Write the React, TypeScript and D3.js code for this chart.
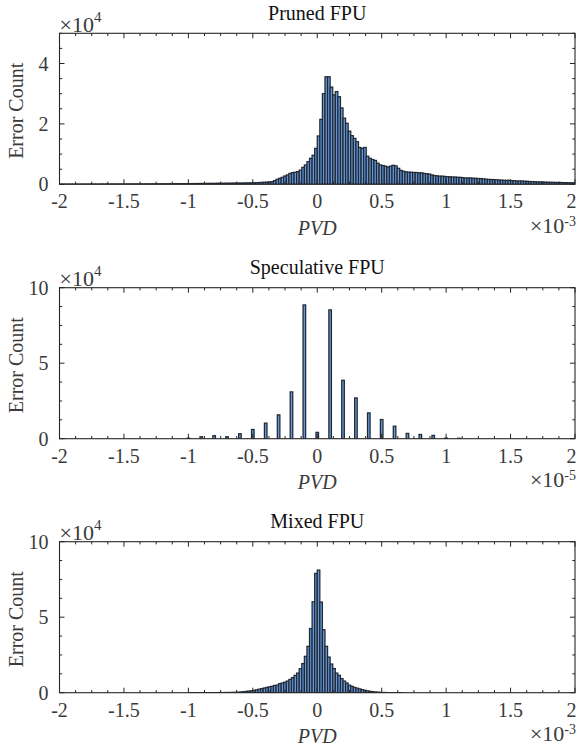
import * as d3 from "d3";

// histogram bin width, same for every panel (in the x-axis units)
const binWidth = 0.02;

// Pruned FPU: bins from -2e-3 to 2e-3, counts per 0.02e-3 bin
const prunedStart = -2;
const prunedCounts = [
  // -2.00 .. -1.52
  50, 55, 50, 60, 55, 60, 65, 60, 70, 65, 70, 75, 70, 80, 75, 80, 85, 80, 90, 85, 95, 90, 100, 95, 105,
  // -1.50 .. -1.02
  105, 110, 115, 110, 120, 125, 120, 130, 135, 130, 140, 145, 150, 145, 155, 160, 165, 170, 175, 180, 190, 195, 200, 210, 220,
  // -1.00 .. -0.52
  230, 235, 245, 250, 260, 270, 275, 285, 295, 300, 310, 320, 330, 340, 350, 360, 370, 380, 390, 400, 410, 420, 440, 460, 480,
  // -0.50 .. -0.02
  500, 540, 580, 620, 670, 720, 780, 870, 1200, 1650, 1980, 2300, 2750, 3100, 3600, 3850, 4000, 4200, 4700, 5600, 6400, 7500, 8600, 9600, 11900,
  // 0.00 .. 0.48
  16000, 21500, 30000, 35600, 35600, 32200, 29600, 30700, 29000, 25300, 21900, 20200, 17600, 16100, 15200, 14100, 12200, 11900, 12200, 9300, 8600, 8200, 7900, 7000, 6400,
  // 0.50 .. 0.98
  6200, 6000, 5700, 6000, 6300, 6100, 5300, 4600, 4300, 4100, 4000, 4000, 3900, 3900, 3800, 3800, 3600, 3500, 3400, 3100, 2900, 2800, 2700, 2700, 2600,
  // 1.00 .. 1.48
  2500, 2500, 2400, 2400, 2300, 2300, 2200, 2100, 2100, 2100, 2000, 2000, 1900, 1900, 1800, 1700, 1600, 1600, 1550, 1500, 1400, 1400, 1300, 1300, 1350,
  // 1.50 .. 1.98
  1200, 1200, 1100, 1100, 1100, 1000, 1000, 900, 900, 850, 800, 800, 750, 700, 700, 650, 650, 600, 600, 600, 550, 550, 500, 500, 500,
];

// Speculative FPU: values are quantised, so only every 0.1e-5 has a count
const specCenters = [-1.0, -0.9, -0.8, -0.7, -0.6, -0.5, -0.4, -0.3, -0.2, -0.1, 0, 0.1, 0.2, 0.3, 0.4, 0.5, 0.6, 0.7, 0.8, 0.9, 1.0, 1.1];
const specCounts = [300, 1300, 2000, 1300, 3300, 6100, 10300, 15800, 31000, 88600, 4200, 85300, 38700, 27000, 17100, 12700, 8300, 3500, 2800, 2200, 400, 300];

// Mixed FPU: bins from -1e-3 upward
const mixedStart = -1;
const mixedCounts = [
  // -1.00 .. -0.72
  5, 5, 8, 10, 12, 15, 20, 25, 30, 40, 50, 60, 75, 90, 110,
  // -0.70 .. -0.38
  130, 160, 200, 250, 300, 500, 650, 850, 1050, 1250, 1500, 1900, 2300, 2700, 3100, 3500, 3900,
  // -0.36 .. 0.00
  4200, 4800, 5000, 6000, 6400, 7000, 7700, 8800, 10000, 11500, 13000, 15900, 19300, 24100, 30700, 42500, 60200, 79000, 81200,
  // 0.02 .. 0.64
  60000, 41700, 30700, 23600, 19000, 16000, 13000, 11500, 9300, 7700, 6400, 5000, 4200, 3500, 3000, 2500, 2000, 1600, 1200, 900,
  700, 500, 350, 250, 150, 100, 60, 40, 25, 15, 10, 5,
];

const xTicks = [-2, -1.5, -1, -0.5, 0, 0.5, 1, 1.5, 2];
const xTickLabels = ["-2", "-1.5", "-1", "-0.5", "0", "0.5", "1", "1.5", "2"];
const prunedYTicks = [0, 2, 4];
const countYTicks = [0, 5, 10];

const font = '"Liberation Serif", "Times New Roman", serif';
const axisColor = "#262626";
const textColor = "#3a3a3a";
const barFill = "#6498dc";
const barEdge = "#222831";

const left = 59.5;
const right = 575;
const plotH = 151;

interface Bar {
  x0: number;
  x1: number;
  count: number;
}

interface PanelProps {
  id: string;
  top: number;
  title: string;
  bars: Bar[];
  yMax: number;
  yTicks: number[];
  yMinorStep: number;
  xExp: string;
}

function Panel({ id, top, title, bars, yMax, yTicks, yMinorStep, xExp }: PanelProps) {
  const bottom = top + plotH;
  const x = d3.scaleLinear().domain([-2, 2]).range([left, right]);
  const y = d3.scaleLinear().domain([0, yMax]).range([bottom, top]);
  const xMinor = d3.range(-2, 2.0001, 0.125);
  const yMinor = d3.range(0, yMax + 1e-9, yMinorStep);
  const major = 5;
  const minor = 2.7;

  return (
    <g>
      <defs>
        <clipPath id={`clip-${id}`}>
          <rect x={left} y={top} width={right - left} height={plotH} />
        </clipPath>
      </defs>
      <g clipPath={`url(#clip-${id})`}>
        {bars.map((b, i) => {
          const yy = y(b.count / 1e4);
          return (
            <rect
              key={i}
              x={x(b.x0)}
              y={yy}
              width={x(b.x1) - x(b.x0)}
              height={bottom - yy}
              fill={barFill}
              stroke={barEdge}
              strokeWidth={1.25}
            />
          );
        })}
      </g>

      {/* box */}
      <rect x={left} y={top} width={right - left} height={plotH} fill="none" stroke={axisColor} strokeWidth={1.1} />

      {/* x ticks, bottom and top */}
      {xMinor.map((t, i) => {
        const isMajor = xTicks.some((m) => Math.abs(m - t) < 1e-9);
        const len = isMajor ? major : minor;
        return (
          <g key={`xt${i}`} stroke={axisColor} strokeWidth={1}>
            <line x1={x(t)} x2={x(t)} y1={bottom} y2={bottom - len} />
            <line x1={x(t)} x2={x(t)} y1={top} y2={top + len} />
          </g>
        );
      })}
      {yMinor.map((t, i) => {
        const isMajor = yTicks.some((m) => Math.abs(m - t) < 1e-9);
        const len = isMajor ? major : minor;
        return (
          <g key={`yt${i}`} stroke={axisColor} strokeWidth={1}>
            <line x1={left} x2={left + len} y1={y(t)} y2={y(t)} />
            <line x1={right} x2={right - len} y1={y(t)} y2={y(t)} />
          </g>
        );
      })}

      {/* tick labels; the last one is kept inside the page edge */}
      {xTicks.map((t, i) => {
        const last = i === xTicks.length - 1;
        return (
          <text
            key={`xl${i}`}
            x={last ? 576.5 : x(t)}
            y={bottom + 24}
            textAnchor={last ? "end" : "middle"}
            fontSize={20}
            fill={textColor}
          >
            {xTickLabels[i]}
          </text>
        );
      })}
      {yTicks.map((t) => (
        <text key={`yl${t}`} x={left - 11} y={y(t) + 7} textAnchor="end" fontSize={20} fill={textColor}>
          {String(t)}
        </text>
      ))}

      {/* title and labels */}
      <text x={(left + right) / 2} y={top - 13.5} textAnchor="middle" fontSize={20} fill="#111">
        {title}
      </text>
      <text
        transform={`translate(23, ${(top + bottom) / 2 + 2}) rotate(-90)`}
        textAnchor="middle"
        fontSize={20}
        fill={textColor}
      >
        Error Count
      </text>
      <text x={(left + right) / 2} y={bottom + 50.5} textAnchor="middle" fontSize={20} fontStyle="italic" fill={textColor}>
        PVD
      </text>

      {/* exponent labels */}
      <text x={left} y={top - 1.6} fontSize={22} fill={textColor}>
        ×10
        <tspan dy={-10} fontSize={15}>
          4
        </tspan>
      </text>
      <text x={576} y={bottom + 48.5} fontSize={22} fill={textColor} textAnchor="end">
        ×10
        <tspan dy={-7} fontSize={14}>
          {xExp}
        </tspan>
      </text>
    </g>
  );
}

export default function App() {
  const prunedBars: Bar[] = prunedCounts.map((c, i) => ({
    x0: prunedStart + i * binWidth,
    x1: prunedStart + (i + 1) * binWidth,
    count: c,
  }));
  const specBars: Bar[] = specCenters.map((c, i) => ({
    x0: c - binWidth / 2,
    x1: c + binWidth / 2,
    count: specCounts[i],
  }));
  const mixedBars: Bar[] = mixedCounts.map((c, i) => ({
    x0: mixedStart + i * binWidth,
    x1: mixedStart + (i + 1) * binWidth,
    count: c,
  }));

  return (
    <svg
      width={577}
      height={749}
      style={{ position: "absolute", left: 0, top: 0, background: "#fff" }}
      fontFamily={font}
    >
      <Panel id="p1" top={33.3} title="Pruned FPU" bars={prunedBars} yMax={5} yTicks={prunedYTicks} yMinorStep={0.5} xExp="-3" />
      <Panel id="p2" top={287.7} title="Speculative FPU" bars={specBars} yMax={10} yTicks={countYTicks} yMinorStep={1.25} xExp="-5" />
      <Panel id="p3" top={541.7} title="Mixed FPU" bars={mixedBars} yMax={10} yTicks={countYTicks} yMinorStep={1.25} xExp="-3" />
    </svg>
  );
}
